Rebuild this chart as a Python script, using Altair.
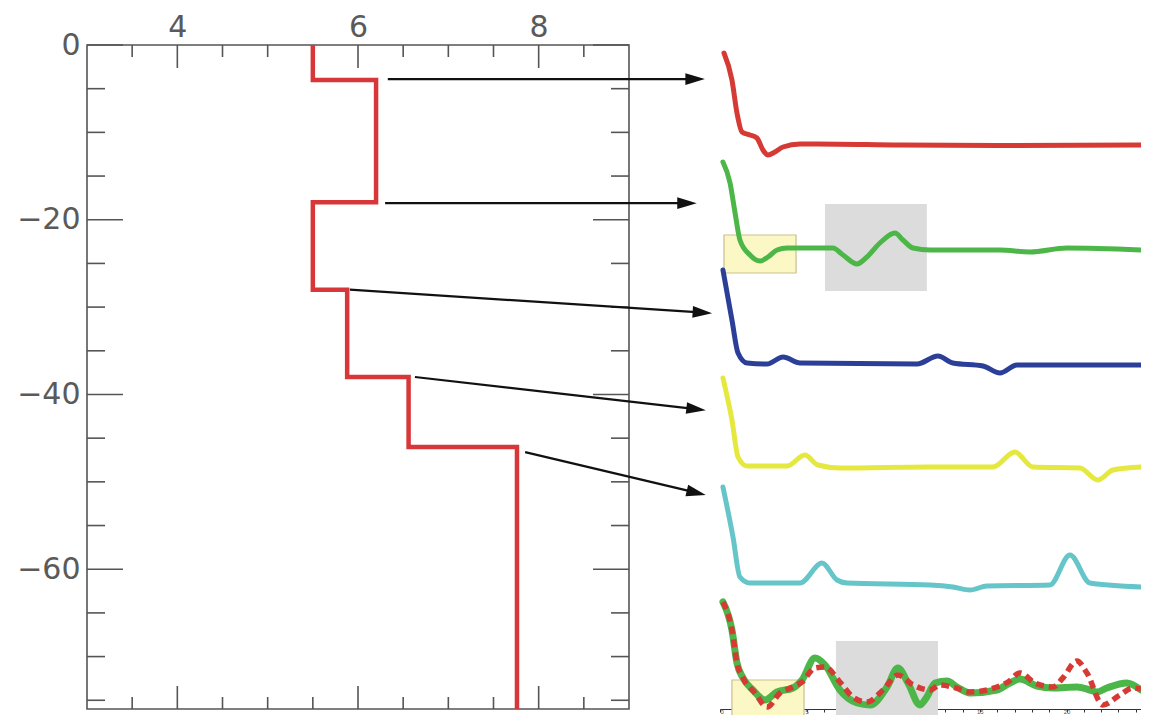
import math
import altair as alt
import pandas as pd

# ---------------- left panel: velocity profile ----------------
layer_vel = [5.5, 6.2, 5.5, 5.88, 6.56, 7.76]
layer_bounds = [0, -4, -18, -28, -38, -46, -76]

x_domain = [3, 9]
y_domain = [-76, 0]
x_major = [4, 6, 8]
x_minor = [3.5, 4.5, 5, 5.5, 6.5, 7, 7.5, 8.5]
y_major = [0, -20, -40, -60]
y_minor = [-5, -10, -15, -25, -30, -35, -45, -50, -55, -65, -70, -75]

arrow_x1 = [6.33, 6.30, 5.91, 6.63, 7.85]
arrow_y1 = [-3.9, -18.1, -28.0, -38.0, -46.6]
arrow_x2 = [9.84, 9.75, 9.92, 9.85, 9.85]
arrow_y2 = [-3.9, -18.1, -30.7, -41.8, -51.5]

# ---------------- right panel: seismograms ----------------
trace_offsets = [0.0, -1.04, -2.19, -3.22, -4.40, -5.45]

t1 = [0.23, 0.69, 0.98, 1.27, 1.73, 2.13, 2.48, 2.77, 3.17, 3.64, 4.62, 5.60, 10.39, 16.16, 24.3]
a1 = [0.92, 0.65, 0.32, 0.13, 0.10, 0.07, -0.05, -0.10, -0.07, -0.02, 0.01, 0.01, 0.0, -0.005, 0.0]

t2 = [0.17, 0.58, 0.87, 1.15, 1.73, 2.31, 2.77, 3.29, 3.87, 6.52, 7.10, 7.91, 8.48, 9.23, 10.10, 10.56, 11.14, 12.12, 16.16, 17.89, 20.02, 24.3]
a2 = [0.87, 0.66, 0.36, 0.09, -0.06, -0.12, -0.08, -0.01, 0.01, 0.01, -0.06, -0.15, -0.08, 0.06, 0.16, 0.09, 0.01, -0.01, -0.01, -0.03, 0.01, -0.01]

t3 = [0.17, 0.69, 1.04, 1.56, 2.71, 3.64, 4.62, 11.37, 12.58, 13.44, 15.18, 16.16, 17.14, 24.3]
a3 = [0.94, 0.44, 0.11, 0.01, 0.0, 0.07, 0.01, 0.0, 0.08, 0.01, -0.02, -0.09, -0.01, -0.01]

t4 = [0.17, 0.69, 1.04, 1.56, 3.87, 4.90, 5.65, 6.92, 12.12, 15.75, 17.02, 18.06, 20.77, 21.81, 22.68, 24.3]
a4 = [0.89, 0.47, 0.10, 0.01, 0.01, 0.12, 0.02, -0.01, 0.0, 0.0, 0.15, 0.0, -0.01, -0.13, -0.03, 0.0]

t5 = [0.17, 0.75, 1.15, 1.73, 4.62, 5.89, 6.75, 7.33, 12.12, 13.44, 14.43, 15.41, 19.04, 20.20, 21.35, 24.3]
a5 = [0.98, 0.48, 0.08, 0.02, 0.02, 0.22, 0.05, 0.02, 0.0, -0.02, -0.05, -0.01, 0.0, 0.30, 0.02, -0.02]

t6_red = [0.17, 0.69, 0.98, 1.33, 2.02, 2.71, 3.46, 4.21, 4.73, 5.48, 6.06, 6.92, 7.67, 8.48, 9.41, 10.27, 11.14, 12.12,
          12.69, 13.44, 14.43, 15.98, 16.62, 17.31, 18.18, 19.22, 19.79, 20.60, 21.18, 22.10, 23.08, 23.83, 24.3]
a6_red = [0.88, 0.60, 0.27, 0.12, -0.03, -0.17, -0.03, 0.03, 0.08, 0.22, 0.23, 0.08, -0.07, -0.12, 0.0, 0.15, 0.05, 0.0,
          0.05, 0.03, -0.02, 0.03, 0.08, 0.17, 0.07, 0.03, 0.12, 0.29, 0.17, -0.15, -0.05, 0.02, 0.01]

t6_green = [0.17, 0.69, 0.98, 1.33, 1.90, 2.60, 3.29, 4.21, 4.73, 5.48, 6.06, 6.92, 7.91, 8.66, 9.64, 10.27, 10.85, 11.54,
            11.94, 12.41, 13.10, 13.68, 14.43, 15.98, 16.73, 17.31, 18.29, 19.22, 20.60, 21.35, 21.75, 22.33, 23.48, 24.3]
a6_green = [0.88, 0.60, 0.27, 0.12, 0.0, -0.10, -0.02, 0.02, 0.10, 0.32, 0.25, 0.0, -0.13, -0.15, 0.03, 0.22, 0.07, -0.15,
            -0.07, 0.07, 0.09, 0.03, -0.03, 0.0, 0.07, 0.11, 0.04, 0.02, 0.03, 0.0, -0.02, 0.02, 0.07, 0.0]

# highlight boxes: (trace index, t start, t end, amp top, amp bottom)
gray_boxes = [(1, 6.06, 11.94, 0.45, -0.42), (5, 6.69, 12.58, 0.49, -0.30)]
yellow_boxes = [(1, 0.23, 4.39, 0.14, -0.24), (5, 0.69, 4.85, 0.10, -0.30)]

t_domain = [0, 24.3]
v_domain = [-5.64, 1.0]
t_ticks = list(range(0, 25))

# ---------------- layout / style ----------------
W, H = 1054, 664
LW = 542          # left panel width in px
RX0 = 633         # right panel start in px
AX = "#555555"
FONT = "DejaVu Sans"

VX = alt.Scale(domain=x_domain, range=[0, LW])
VY = alt.Scale(domain=y_domain, range=[H, 0])
TX = alt.Scale(domain=t_domain, range=[RX0, W])
TY = alt.Scale(domain=v_domain, range=[H, 0])

px_per_x = LW / (x_domain[1] - x_domain[0])
px_per_y = H / (y_domain[1] - y_domain[0])

layers = []

# frame + labels
frame_df = pd.DataFrame({"x1": [x_domain[0]], "x2": [x_domain[1]], "y1": [y_domain[1]], "y2": [y_domain[0]]})
layers.append(
    alt.Chart(frame_df).mark_rect(fillOpacity=0, stroke=AX, strokeWidth=1.6).encode(
        x=alt.X("x1:Q", scale=VX, axis=alt.Axis(orient="top", values=x_major, labelFontSize=30, labelFont=FONT,
                                                labelColor="#5a5a5a", domain=False, ticks=False, tickSize=0, grid=False,
                                                title=None, labelPadding=3, labelFlush=False)),
        x2="x2:Q",
        y=alt.Y("y1:Q", scale=VY, axis=alt.Axis(orient="left", values=y_major, labelFontSize=30, labelFont=FONT,
                                                labelColor="#5a5a5a", domain=False, ticks=False, tickSize=0, grid=False,
                                                title=None, labelPadding=7, labelFlush=False)),
        y2="y2:Q",
    )
)

def hticks(vals, length, side):
    df = pd.DataFrame({"v": vals})
    if side == "top":
        ys = dict(y=alt.value(0), y2=alt.value(length))
    else:
        ys = dict(y=alt.value(H), y2=alt.value(H - length))
    return alt.Chart(df).mark_rule(color=AX, strokeWidth=1.6).encode(
        x=alt.X("v:Q", scale=VX, axis=None), **ys)

def vticks(vals, length, side):
    df = pd.DataFrame({"v": vals})
    if side == "left":
        xs = dict(x=alt.value(0), x2=alt.value(length))
    else:
        xs = dict(x=alt.value(LW), x2=alt.value(LW - length))
    return alt.Chart(df).mark_rule(color=AX, strokeWidth=1.6).encode(
        y=alt.Y("v:Q", scale=VY, axis=None), **xs)

for side in ["top", "bottom"]:
    layers.append(hticks(x_major, 23, side))
    layers.append(hticks(x_minor, 12, side))
for side in ["left", "right"]:
    layers.append(vticks(y_major, 36, side))
    layers.append(vticks(y_minor, 18, side))

# step profile
sx, sy, so = [], [], []
for i, v in enumerate(layer_vel):
    sx += [v, v]
    sy += [layer_bounds[i], layer_bounds[i + 1]]
    so += [2 * i, 2 * i + 1]
step_df = pd.DataFrame({"vel": sx, "depth": sy, "o": so})
layers.append(
    alt.Chart(step_df).mark_line(color="#d8373a", strokeWidth=4.5, strokeJoin="miter").encode(
        x=alt.X("vel:Q", scale=VX, axis=None),
        y=alt.Y("depth:Q", scale=VY, axis=None),
        order="o:Q",
    )
)

# arrows
rows = []
for xa, ya, xb, yb in zip(arrow_x1, arrow_y1, arrow_x2, arrow_y2):
    dxp = (xb - xa) * px_per_x
    dyp = -(yb - ya) * px_per_y
    ang = math.degrees(math.atan2(dyp, dxp))
    L = math.hypot(dxp, dyp)
    k = (L - 12) / L
    rows.append({"x1": xa, "y1": ya, "xe": xa + (xb - xa) * k, "ye": ya + (yb - ya) * k,
                 "x2": xb, "y2": yb, "ang": ang})
arr_df = pd.DataFrame(rows)
layers.append(
    alt.Chart(arr_df).mark_rule(color="#111111", strokeWidth=2.2).encode(
        x=alt.X("x1:Q", scale=VX, axis=None), x2="xe:Q",
        y=alt.Y("y1:Q", scale=VY, axis=None), y2="ye:Q",
    )
)
layers.append(
    alt.Chart(arr_df).mark_point(shape="M0,0L-2,-0.6L-2,0.6Z", filled=True, color="#111111",
                                 opacity=1, size=380, strokeWidth=0).encode(
        x=alt.X("x2:Q", scale=VX, axis=None),
        y=alt.Y("y2:Q", scale=VY, axis=None),
        angle=alt.Angle("ang:Q", scale=None),
    )
)

# right panel boxes
def box_df(boxes):
    return pd.DataFrame({
        "ta": [b[1] for b in boxes], "tb": [b[2] for b in boxes],
        "va": [trace_offsets[b[0]] + b[3] for b in boxes],
        "vb": [trace_offsets[b[0]] + b[4] for b in boxes],
    })

layers.append(
    alt.Chart(box_df(gray_boxes)).mark_rect(color="#dcdcdc").encode(
        x=alt.X("ta:Q", scale=TX, axis=None), x2="tb:Q",
        y=alt.Y("va:Q", scale=TY, axis=None), y2="vb:Q",
    )
)
layers.append(
    alt.Chart(box_df(yellow_boxes)).mark_rect(fill="#fcf8c6", stroke="#c9bf8e", strokeWidth=1.2).encode(
        x=alt.X("ta:Q", scale=TX, axis=None), x2="tb:Q",
        y=alt.Y("va:Q", scale=TY, axis=None), y2="vb:Q",
    )
)

def trace_layer(ts, amps, idx, color, width, dash=None, axis=None):
    df = pd.DataFrame({"t": ts, "v": [trace_offsets[idx] + a for a in amps], "o": list(range(len(ts)))})
    kw = dict(color=color, strokeWidth=width, interpolate="monotone", strokeCap="round", strokeJoin="round")
    if dash:
        kw["strokeDash"] = dash
        kw["strokeCap"] = "butt"
    return alt.Chart(df).mark_line(**kw).encode(
        x=alt.X("t:Q", scale=TX, axis=axis),
        y=alt.Y("v:Q", scale=TY, axis=None),
        order="o:Q",
    )

layers.append(trace_layer(t1, a1, 0, "#d63a34", 5))
layers.append(trace_layer(t2, a2, 1, "#4cb748", 5))
layers.append(trace_layer(t3, a3, 2, "#2b3f98", 5))
layers.append(trace_layer(t4, a4, 3, "#e5e83e", 5))
layers.append(trace_layer(t5, a5, 4, "#66c5c9", 5))
bottom_axis = alt.Axis(orient="bottom", values=t_ticks, domainColor="#333333", tickColor="#333333", tickSize=3,
                       labelFontSize=6, labelColor="#555555", labelExpr="datum.value % 5 == 0 ? datum.label : ''",
                       grid=False, title=None, labelPadding=-4)
layers.append(trace_layer(t6_green, a6_green, 5, "#4cb748", 7, axis=bottom_axis))
layers.append(trace_layer(t6_red, a6_red, 5, "#d63a34", 5.5, dash=[8, 5]))

chart = alt.layer(*layers).resolve_scale(x="independent", y="independent").properties(
    width=W, height=H,
    padding={"left": 79, "top": 37, "right": 0, "bottom": 6},
    autosize=alt.AutoSizeParams(type="none"),
).configure_view(stroke=None)

chart.save("out.html", embed_options={"renderer": "svg", "actions": False})
